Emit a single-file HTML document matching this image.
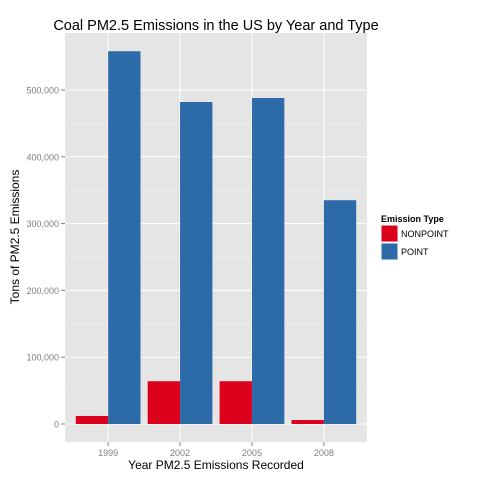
<!DOCTYPE html>
<html><head><meta charset="utf-8"><style>body{margin:0;background:#fff}svg{display:block;font-family:"Liberation Sans",Arial,sans-serif}</style></head>
<body>
<svg id="c" width="480" height="480"></svg>
<script>
const categories=["1999","2002","2005","2008"];
const nonpoint=[12000,64000,64000,6000];
const point=[558000,482000,488000,335000];
const yTicks=[0,100000,200000,300000,400000,500000];
const yTickLabels=["0","100,000","200,000","300,000","400,000","500,000"];
const svg=document.getElementById('c');const NS="http://www.w3.org/2000/svg";
function el(t,a,p){const e=document.createElementNS(NS,t);for(const k in a)e.setAttribute(k,a[k]);(p||svg).appendChild(e);return e;}
const L=65,R=367,T=33,B=442,y0=424,ppu=66.8/100000;
const y=v=>y0-v*ppu;
const step=(R-L)/(categories.length+0.2);
const x=i=>L+step*(0.6+i);
let e=el('rect',{x:L,y:T,width:R-L,height:B-T,fill:'#e5e5e5'});


for(let i=0;i<yTicks.length;i++){
  if(i<yTicks.length-1){const m=(yTicks[i]+yTicks[i+1])/2;el('line',{x1:L,x2:R,y1:y(m),y2:y(m),stroke:'#f2f2f2','stroke-width':0.5});}
  e=el('line',{x1:L,x2:R,y1:y(yTicks[i]),y2:y(yTicks[i]),stroke:'#fff','stroke-width':1});
  
  
  el('line',{x1:L-4,x2:L,y1:y(yTicks[i]),y2:y(yTicks[i]),stroke:'#7f7f7f'});
  e=el('text',{x:L-6,y:y(yTicks[i])+3.5,'text-anchor':'end','font-size':9,fill:'#7f7f7f'});e.textContent=yTickLabels[i];
  
  
}
const bw=step*0.45;
categories.forEach((c,i)=>{
  el('line',{x1:x(i),x2:x(i),y1:T,y2:B,stroke:'#fff','stroke-width':1});
  e=el('rect',{x:x(i)-bw,y:y(nonpoint[i]),width:bw,height:y0-y(nonpoint[i]),fill:'#db001b'});
  
  
  e=el('rect',{x:x(i),y:y(point[i]),width:bw,height:y0-y(point[i]),fill:'#2c6aa8'});
  
  
  el('line',{x1:x(i),x2:x(i),y1:B,y2:B+4,stroke:'#7f7f7f'});
  e=el('text',{x:x(i),y:B+14,'text-anchor':'middle','font-size':9,fill:'#7f7f7f'});e.textContent=c;
  
  
});
e=el('text',{x:216,y:30,'text-anchor':'middle','font-size':14.5});e.textContent="Coal PM2.5 Emissions in the US by Year and Type";


e=el('text',{x:216,y:469,'text-anchor':'middle','font-size':12});e.textContent="Year PM2.5 Emissions Recorded";


e=el('text',{x:0,y:0,'text-anchor':'middle','font-size':12,transform:'translate(19,237) rotate(-90)'});e.textContent="Tons of PM2.5 Emissions";


e=el('text',{x:381,y:222,'font-size':9,'font-weight':'bold'});e.textContent="Emission Type";


[["NONPOINT","#db001b"],["POINT","#2c6aa8"]].forEach((d,i)=>{
  const g=el('g',{});
  
  
  el('rect',{x:381,y:225+i*18,width:17,height:17,fill:d[1],stroke:'#fff','stroke-width':1},g);
  const t=el('text',{x:401,y:237+i*18,'font-size':9},g);t.textContent=d[0];
});
</script>
</body></html>
